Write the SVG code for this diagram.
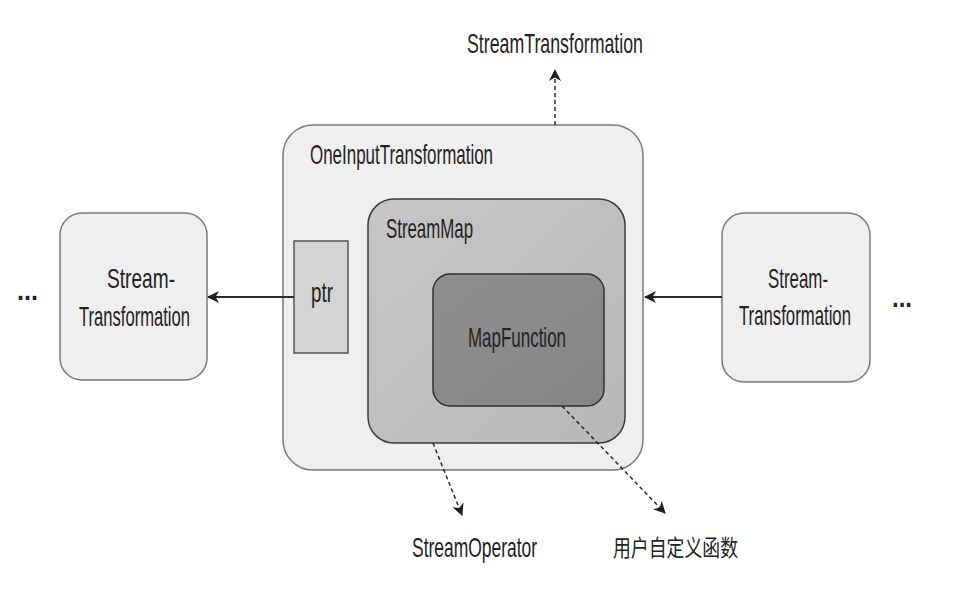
<svg xmlns="http://www.w3.org/2000/svg" width="973" height="594" viewBox="0 0 973 594">
<defs>
<style>
.t{font-family:"Liberation Sans",Arial,"Noto Sans CJK SC",sans-serif;font-size:28px;fill:#232323;}
.cjk{font-family:"Noto Sans CJK SC","Liberation Sans",sans-serif;font-size:23px;fill:#232323;}
.box{fill:#efefef;stroke:#7a7a7a;stroke-width:1.5;}
.solid{stroke:#2a2a2a;stroke-width:2;fill:none;}
.dash{stroke:#2a2a2a;stroke-width:1.5;fill:none;stroke-dasharray:4 3;}
</style>
<marker id="ah" viewBox="0 0 12 12" refX="11" refY="6" markerWidth="12" markerHeight="12" markerUnits="userSpaceOnUse" orient="auto">
<path d="M0,0 L12,6 L0,12 L3.5,6 Z" fill="#1e1e1e"/>
</marker>
<linearGradient id="gSM" x1="0" y1="0" x2="1" y2="1">
<stop offset="0" stop-color="#c6c6c6"/>
<stop offset="1" stop-color="#b8b8b8"/>
</linearGradient>
<linearGradient id="gMF" x1="0" y1="0" x2="1" y2="1">
<stop offset="0" stop-color="#8f8f8f"/>
<stop offset="1" stop-color="#858585"/>
</linearGradient>
</defs>
<rect width="973" height="594" fill="#ffffff"/>

<g id="top-label">
<text class="t" x="467" y="53" textLength="176" lengthAdjust="spacingAndGlyphs">StreamTransformation</text>
</g>

<g id="oneInputTransformation">
<rect class="box" x="283" y="125" width="360" height="345" rx="30"/>
<text class="t" x="310" y="164" textLength="183" lengthAdjust="spacingAndGlyphs">OneInputTransformation</text>
</g>

<g id="streamMap">
<rect x="368" y="199" width="257" height="244" rx="26" fill="url(#gSM)" stroke="#3c3c3c" stroke-width="1.5"/>
<text class="t" x="386" y="238" textLength="87" lengthAdjust="spacingAndGlyphs">StreamMap</text>
</g>

<g id="mapFunction">
<rect x="433" y="274" width="171" height="132" rx="17" fill="url(#gMF)" stroke="#333" stroke-width="1.5"/>
<text class="t" x="468" y="347" textLength="98" lengthAdjust="spacingAndGlyphs">MapFunction</text>
</g>

<g id="ptr">
<rect x="294" y="241" width="54" height="112" fill="#d4d4d4" stroke="#555" stroke-width="1.5"/>
<text class="t" x="311" y="302" textLength="22" lengthAdjust="spacingAndGlyphs">ptr</text>
</g>

<g id="leftTransformation">
<rect class="box" x="60" y="213" width="147" height="167" rx="22"/>
<text class="t" x="107" y="288" textLength="68" lengthAdjust="spacingAndGlyphs">Stream-</text>
<text class="t" x="79" y="326" textLength="111" lengthAdjust="spacingAndGlyphs">Transformation</text>
</g>

<g id="rightTransformation">
<rect class="box" x="722" y="213" width="148" height="169" rx="22"/>
<text class="t" x="768" y="288" textLength="60" lengthAdjust="spacingAndGlyphs">Stream-</text>
<text class="t" x="739" y="325" textLength="112" lengthAdjust="spacingAndGlyphs">Transformation</text>
</g>

<g id="ellipsis-left">
<text class="t" x="17" y="300" font-weight="bold" textLength="21" lengthAdjust="spacingAndGlyphs">...</text>
</g>
<g id="ellipsis-right">
<text class="t" x="892" y="307" font-weight="bold" textLength="20" lengthAdjust="spacingAndGlyphs">...</text>
</g>

<g id="label-streamOperator">
<text class="t" x="412" y="557" textLength="125" lengthAdjust="spacingAndGlyphs">StreamOperator</text>
</g>
<g id="label-udf">
<text class="cjk" x="613" y="556" textLength="125" lengthAdjust="spacingAndGlyphs">用户自定义函数</text>
</g>

<g id="connectors">
<line class="solid" x1="294" y1="297" x2="208" y2="297" marker-end="url(#ah)"/>
<line class="solid" x1="722" y1="297" x2="645" y2="297" marker-end="url(#ah)"/>
<line class="dash" x1="555" y1="125" x2="555" y2="70" marker-end="url(#ah)"/>
<line class="dash" x1="433" y1="443" x2="462" y2="515" marker-end="url(#ah)"/>
<line class="dash" x1="562" y1="406" x2="665" y2="513" marker-end="url(#ah)"/>
</g>
</svg>
